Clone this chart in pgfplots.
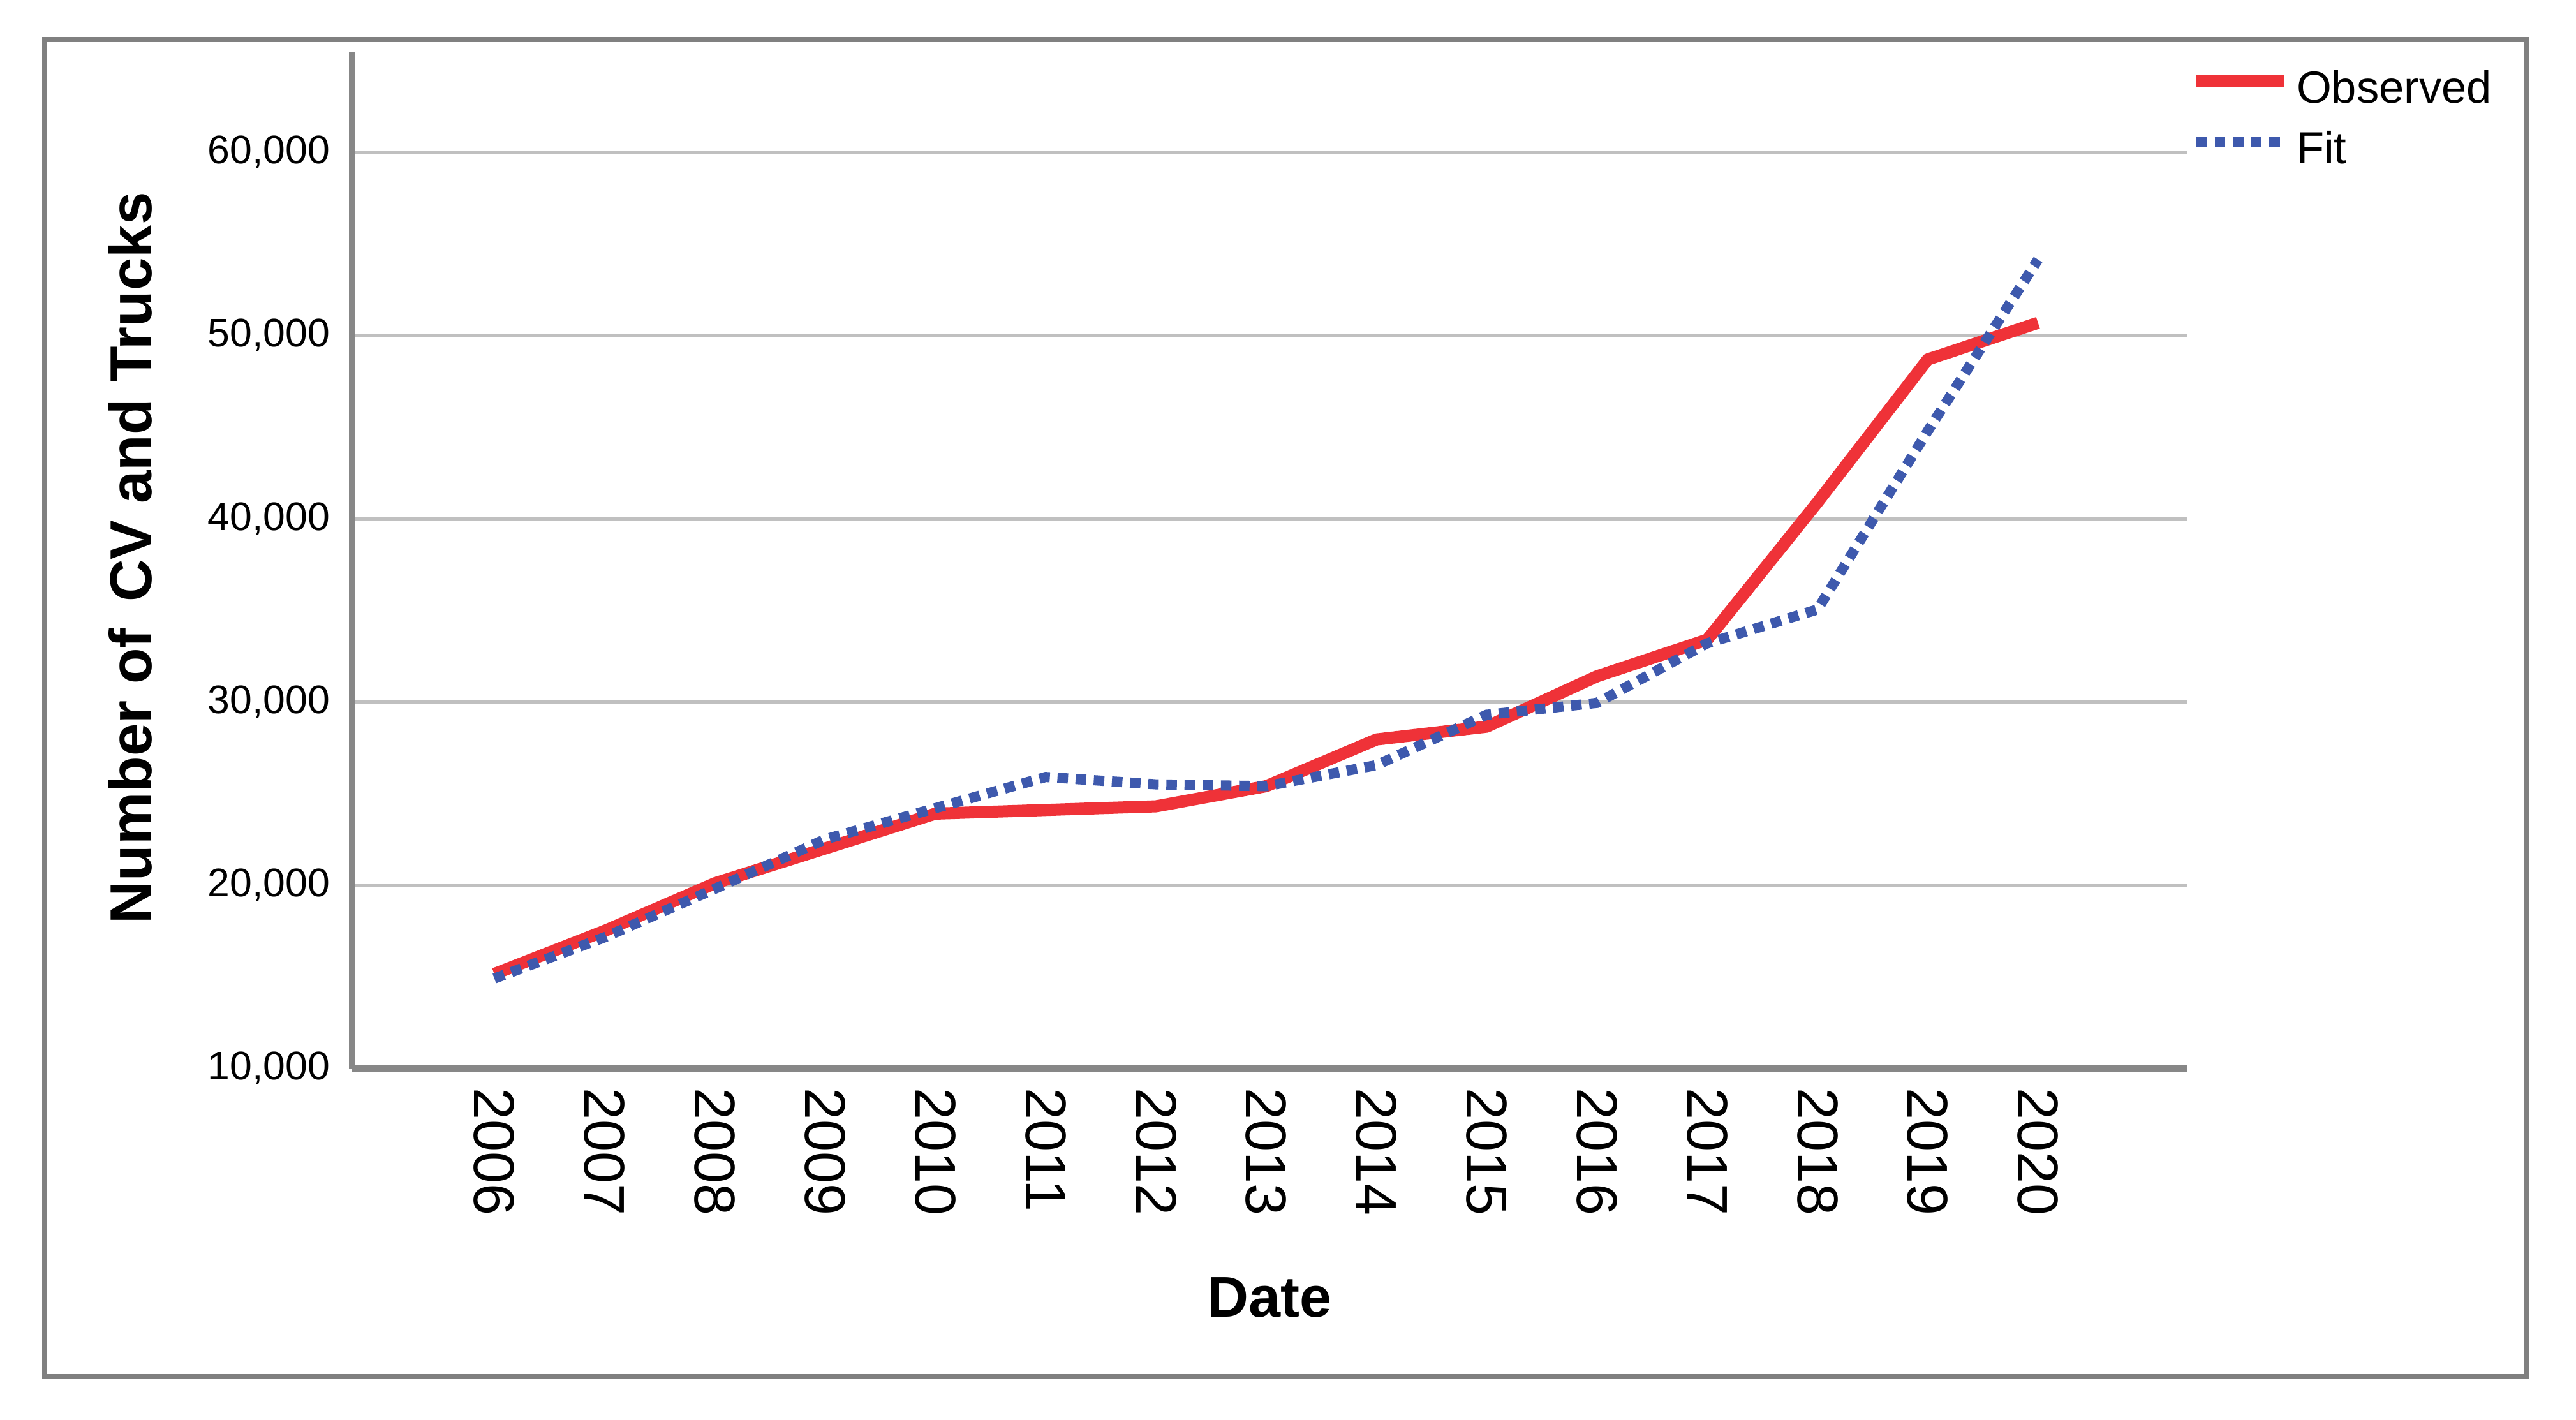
\documentclass[border=0pt]{standalone}
\usepackage{pgfplots}
\pgfplotsset{compat=1.18}
\usepackage{fontspec}
\setmainfont{Liberation Sans}
\definecolor{obsred}{RGB}{239,50,56}
\definecolor{fitblue}{RGB}{62,89,173}
\definecolor{gridgray}{RGB}{192,192,192}
\definecolor{axgray}{RGB}{135,135,135}
\definecolor{framegray}{RGB}{128,128,128}
\begin{document}
\begin{tikzpicture}
\path[use as bounding box] (0,0) rectangle (807.6pt,445pt);
\draw[framegray, line width=1.6pt] (14pt,13.4pt) rectangle (792pt,432.6pt);
\begin{axis}[
  at={(110.4pt,110.08pt)}, anchor=south west,
  scale only axis, width=575.2pt, height=318.7pt,
  xmin=2004.71, xmax=2021.35, ymin=10000, ymax=65500,
  scaled y ticks=false, scaled x ticks=false,
  axis lines*=left,
  axis line style={axgray, line width=2pt, -},
  xtick={2006,2007,2008,2009,2010,2011,2012,2013,2014,2015,2016,2017,2018,2019,2020},
  xticklabels={2006,2007,2008,2009,2010,2011,2012,2013,2014,2015,2016,2017,2018,2019,2020},
  ytick={10000,20000,30000,40000,50000,60000},
  yticklabels={{10,000},{20,000},{30,000},{40,000},{50,000},{60,000}},
  major tick length=0pt,
  ymajorgrids, grid style={gridgray, line width=1.1pt},
  /pgf/number format/assume math mode=true,
  xticklabel style={rotate=-90, anchor=west, font=\fontsize{18}{20}\selectfont, inner sep=0pt},
  xticklabel shift=6pt,
  yticklabel style={anchor=east, font=\fontsize{12.5}{15}\selectfont, inner sep=0pt},
  yticklabel shift=6.8pt,
  xlabel={Date},
  xlabel style={at={(axis description cs:0.5,-0.2256)}, anchor=center, font=\bfseries\fontsize{18}{20}\selectfont},
  ylabel={Number of\hspace{0.45em}CV and Trucks},
  ylabel style={at={(axis description cs:-0.1207,0.502)}, anchor=center, font=\bfseries\fontsize{18.5}{20}\selectfont},
  legend style={at={(axis description cs:1.0019,0.9813)}, anchor=north west, draw=none, fill=none,
    inner sep=0pt, outer sep=0pt, font=\fontsize{14.1}{17}\selectfont, row sep=8.9pt, column sep=2.1pt,
    nodes={inner sep=0pt, text height=10.1pt, text depth=0pt}},
  legend cell align=left,
  legend image code/.code={\draw[#1] (0pt,1.7pt) -- (27.4pt,1.7pt);},
  clip=false,
]
\addplot[obsred, line width=3.8pt, line join=round] coordinates {
(2006,15150) (2007,17500) (2008,20100) (2009,22000) (2010,23900)
(2011,24100) (2012,24300) (2013,25400) (2014,27950) (2015,28650)
(2016,31400) (2017,33400) (2018,40900) (2019,48700) (2020,50700)};
\addlegendentry{Observed}
\addplot[fitblue, line width=3.2pt, dash pattern=on 3.3pt off 2.4pt] coordinates {
(2006,14900) (2007,17150) (2008,19800) (2009,22500) (2010,24200)
(2011,25900) (2012,25500) (2013,25400) (2014,26550) (2015,29300)
(2016,29950) (2017,33200) (2018,35050) (2019,44800) (2020,54150)};
\addlegendentry{Fit}
\end{axis}
\end{tikzpicture}
\end{document}
